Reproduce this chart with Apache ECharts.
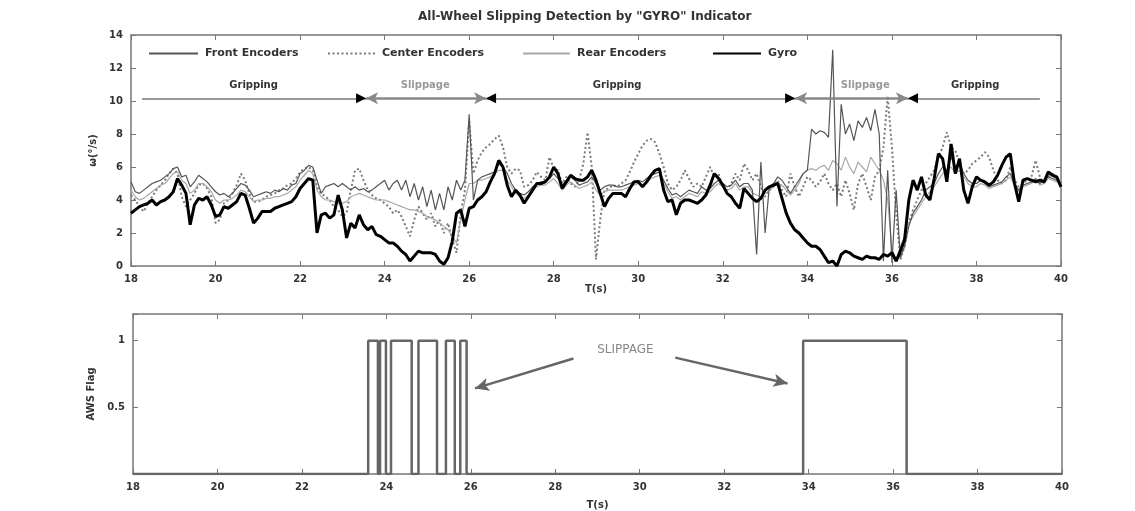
<!DOCTYPE html>
<html>
<head>
<meta charset="utf-8">
<script src="https://cdn.jsdelivr.net/npm/echarts@6/dist/echarts.min.js"></script>
<style>
  html, body { margin: 0; padding: 0; background: #fff; }
  #chart { width: 1135px; height: 511px; }
</style>
</head>
<body>
<div id="chart"></div>
<script>
// traces are sampled every 0.1 s from 18 s to 40 s
var tStart = 18, tStep = 0.1

var gyro = [
  3.2, 3.4, 3.6, 3.7, 3.8, 4.0, 3.7, 3.9, 4.0, 4.2,
  4.5, 5.3, 4.9, 4.4, 2.5, 3.7, 4.1, 4.0, 4.2, 3.7,
  3.0, 3.1, 3.6, 3.5, 3.7, 3.9, 4.4, 4.3, 3.5, 2.6,
  2.9, 3.3, 3.3, 3.3, 3.5, 3.6, 3.7, 3.8, 3.9, 4.2,
  4.7, 5.0, 5.3, 5.2, 2.0, 3.1, 3.2, 2.9, 3.1, 4.3,
  3.4, 1.7, 2.6, 2.3, 3.1, 2.5, 2.2, 2.4, 1.9, 1.8,
  1.6, 1.4, 1.4, 1.2, 0.9, 0.7, 0.3, 0.6, 0.9, 0.8,
  0.8, 0.8, 0.7, 0.3, 0.1, 0.5, 1.5, 3.2, 3.4, 2.4,
  3.5, 3.6, 4.0, 4.2, 4.5, 5.1, 5.6, 6.4, 6.0, 4.9,
  4.2, 4.6, 4.3, 3.8, 4.2, 4.6, 5.0, 5.0, 5.1, 5.4,
  6.0, 5.6, 4.7, 5.1, 5.5, 5.3, 5.2, 5.2, 5.4, 5.8,
  5.2, 4.4, 3.6, 4.1, 4.4, 4.4, 4.4, 4.2, 4.7, 5.1,
  5.1, 4.8, 5.1, 5.5, 5.8, 5.9, 4.6, 3.9, 4.0, 3.1,
  3.8, 4.0, 4.0, 3.9, 3.8, 4.0, 4.3, 4.9, 5.6, 5.3,
  4.9, 4.4, 4.2, 3.8, 3.5, 4.7, 4.4, 4.1, 3.9, 4.1,
  4.6, 4.8, 4.9, 5.0, 4.1, 3.2, 2.6, 2.2, 2.0, 1.7,
  1.4, 1.2, 1.2, 1.0, 0.6, 0.2, 0.3, 0.0, 0.7, 0.9,
  0.8, 0.6, 0.5, 0.4, 0.6, 0.5, 0.5, 0.4, 0.7, 0.6,
  0.8, 0.3, 0.9, 1.6, 4.0, 5.2, 4.6, 5.4, 4.3, 4.0,
  5.3, 6.8, 6.5, 5.1, 7.4, 5.6, 6.5, 4.6, 3.8, 4.8,
  5.4, 5.2, 5.1, 4.9, 5.1, 5.5, 6.1, 6.6, 6.8, 5.0,
  3.9, 5.2, 5.3, 5.2, 5.1, 5.2, 5.1, 5.7, 5.5, 5.4,
  4.8
]

var frontEnc = [
  5.1, 4.5, 4.4, 4.6, 4.8, 5.0, 5.1, 5.2, 5.4, 5.6,
  5.9, 6.0, 5.4, 5.5, 4.8, 5.1, 5.5, 5.3, 5.1, 4.8,
  4.5, 4.3, 4.4, 4.2, 4.4, 4.7, 5.0, 4.9, 4.6, 4.2,
  4.3, 4.4, 4.5, 4.4, 4.6, 4.5, 4.7, 4.6, 4.9, 5.0,
  5.6, 5.8, 6.1, 6.0, 5.2, 4.4, 4.8, 4.9, 5.0, 4.8,
  5.0, 4.8, 4.6, 4.8, 4.6, 4.7, 4.5, 4.6, 4.8, 5.0,
  5.2, 4.6, 5.0, 5.2, 4.6, 5.2, 4.2, 5.0, 4.0, 4.8,
  3.6, 4.6, 3.4, 4.4, 3.4, 4.8, 4.0, 5.2, 4.6, 5.2,
  9.2, 4.0, 5.2, 5.4, 5.5, 5.6, 5.7, 6.2, 6.0, 5.6,
  5.0, 4.6, 4.4, 4.3, 4.5, 4.8, 5.0, 5.1, 5.1, 5.3,
  5.6, 5.3, 4.9, 5.2, 5.4, 5.2, 4.9, 5.0, 5.1, 5.4,
  5.0, 4.6, 4.8, 4.9, 4.9, 4.8, 4.8, 4.9, 5.0, 5.1,
  5.2, 5.1, 5.3, 5.5, 5.6, 5.7, 5.2, 4.7, 4.3, 4.4,
  4.2, 4.4, 4.6, 4.5, 4.4, 4.8, 4.6, 4.7, 5.0, 5.2,
  5.0, 4.8, 4.9, 5.2, 4.8, 5.0, 5.0, 4.6, 0.7, 6.3,
  2.0, 4.8, 5.0, 5.4, 5.2, 4.8, 4.4, 4.8, 5.2, 5.6,
  5.8, 8.3, 8.0, 8.2, 8.1, 7.8, 13.1, 3.6, 9.8, 8.0,
  8.6, 7.6, 8.8, 8.4, 9.0, 8.2, 9.5, 8.0, 0.3, 5.8,
  0.2, 4.6, 0.5, 1.2, 2.4, 3.2, 3.6, 4.0, 4.6, 4.8,
  5.0, 5.6, 6.0, 5.8, 6.6, 6.0, 6.2, 5.6, 5.2, 5.0,
  5.0, 5.2, 5.0, 4.8, 4.9, 5.0, 5.1, 5.4, 5.6, 5.0,
  4.6, 4.9, 5.0, 5.1, 5.3, 5.0, 5.2, 5.4, 5.3, 5.2,
  5.0
]

var centerEnc = [
  4.3, 4.0, 3.6, 3.3, 3.8, 4.2, 4.6, 4.9, 5.2, 5.6,
  5.9, 5.6, 4.2, 3.6, 4.0, 4.4, 4.9, 5.0, 4.7, 4.2,
  2.6, 2.8, 3.8, 4.0, 4.4, 4.9, 5.6, 5.2, 4.4, 3.9,
  3.9, 4.0, 4.2, 4.3, 4.4, 4.6, 4.7, 4.9, 5.0, 5.3,
  5.7, 5.9, 6.0, 5.8, 4.8, 4.4, 4.2, 4.0, 3.6, 3.4,
  3.0, 3.2, 4.6, 5.8, 5.9, 5.2, 4.6, 4.3, 4.1, 4.0,
  3.8, 3.6, 3.2, 3.4, 3.0, 2.4, 1.8, 2.8, 3.6, 3.2,
  2.8, 3.2, 2.4, 2.8, 2.0, 2.6, 1.6, 0.8, 3.2, 4.6,
  8.8, 5.6, 6.4, 6.9, 7.2, 7.4, 7.7, 7.9, 7.2, 6.0,
  5.6, 5.9, 5.8, 4.8, 4.9, 5.2, 5.7, 5.4, 5.2, 6.6,
  5.9, 5.8, 5.0, 5.4, 5.0, 4.8, 5.2, 6.2, 8.1, 6.0,
  0.4, 2.8, 4.6, 4.7, 4.9, 4.8, 5.0, 5.2, 5.7, 6.3,
  6.8, 7.3, 7.6, 7.7, 7.5, 6.8, 6.0, 5.0, 4.6, 4.8,
  5.2, 5.8, 5.3, 4.8, 5.0, 4.8, 5.4, 6.0, 5.4, 5.6,
  4.8, 4.6, 5.0, 5.6, 5.2, 6.2, 5.8, 5.2, 5.6, 4.8,
  4.2, 4.6, 4.8, 5.2, 4.6, 4.2, 5.6, 4.8, 4.2, 4.8,
  5.4, 5.2, 4.8, 5.1, 5.6, 5.0, 4.6, 5.0, 4.2, 5.2,
  4.4, 3.4, 5.0, 5.6, 4.8, 4.0, 5.4, 5.8, 7.2, 10.3,
  7.2, 3.2, 0.4, 1.2, 2.6, 3.4, 4.0, 4.6, 5.0, 5.4,
  5.8, 6.6, 7.2, 8.1, 7.2, 7.0, 6.2, 5.6, 5.8, 6.2,
  6.4, 6.6, 6.9, 6.6, 5.8, 5.2, 5.0, 5.2, 6.0, 5.2,
  4.8, 5.0, 5.2, 5.4, 6.4, 5.4, 5.0, 5.4, 5.6, 5.2,
  5.0
]

var rearEnc = [
  4.6, 4.2, 4.0, 4.1, 4.3, 4.5, 4.7, 4.9, 5.0, 5.3,
  5.6, 5.7, 5.2, 5.0, 4.4, 4.6, 5.0, 5.0, 4.8, 4.5,
  4.0, 3.8, 4.0, 4.0, 4.1, 4.3, 4.6, 4.5, 4.2, 3.9,
  4.0, 4.0, 4.1, 4.1, 4.2, 4.2, 4.3, 4.4, 4.6, 4.8,
  5.2, 5.5, 5.8, 5.6, 4.6, 4.2, 4.0, 4.0, 3.9, 3.8,
  3.8, 3.9, 4.2, 4.3, 4.4, 4.3, 4.2, 4.1, 4.0, 4.0,
  4.0, 3.9, 3.8, 3.7, 3.6, 3.5, 3.4, 3.4, 3.3, 3.2,
  3.0, 2.9, 2.8, 2.6, 2.4, 2.2, 1.8, 1.4, 2.8, 4.0,
  5.0, 5.0, 5.2, 5.2, 5.3, 5.4, 5.6, 5.8, 5.8, 5.2,
  4.8, 4.4, 4.2, 4.1, 4.3, 4.6, 4.8, 4.9, 4.9, 5.1,
  5.3, 5.0, 4.6, 4.9, 5.1, 4.9, 4.7, 4.8, 4.9, 5.1,
  4.6, 4.3, 4.5, 4.6, 4.6, 4.6, 4.6, 4.7, 4.8, 4.9,
  5.0, 4.9, 5.1, 5.3, 5.4, 5.5, 5.0, 4.5, 4.1, 4.2,
  4.0, 4.2, 4.4, 4.3, 4.2, 4.5, 4.4, 4.5, 4.8, 5.0,
  4.8, 4.6, 4.7, 5.0, 4.6, 4.8, 4.8, 4.4, 4.3, 4.2,
  4.4, 4.6, 4.8, 5.0, 4.9, 4.6, 4.3, 4.6, 5.0, 5.6,
  5.8, 5.9, 5.8, 6.0, 6.1, 5.8, 6.4, 6.2, 5.8, 6.6,
  6.0, 5.6, 6.3, 6.0, 5.7, 6.6, 6.2, 5.8, 5.2, 4.0,
  1.0, 0.4, 1.2, 1.8, 2.6, 3.0, 3.4, 3.8, 4.2, 4.5,
  4.8, 5.2, 5.6, 5.8, 6.0, 5.6, 5.8, 5.4, 5.0, 4.8,
  4.8, 5.0, 4.9, 4.7, 4.8, 4.9, 5.0, 5.2, 5.4, 4.9,
  4.5, 4.8, 4.9, 5.0, 5.2, 4.9, 5.0, 5.3, 5.2, 5.1,
  4.9
]

// AWS flag: time where the flag switches, and the value it takes there
var flagTimes = [18, 23.57, 23.80, 23.85, 23.99, 24.11, 24.60, 24.76, 25.20, 25.41, 25.62, 25.75, 25.90, 33.87, 36.32, 40]
var flagValues = [0, 1, 0, 1, 0, 1, 0, 1, 0, 1, 0, 1, 0, 1, 0, 0]

// phase annotations on the upper plot
var phaseNames = ['Gripping', 'Slippage', 'Gripping', 'Slippage', 'Gripping']
var phaseFrom = [18.26, 23.56, 26.40, 33.71, 36.38]
var phaseTo = [23.56, 26.40, 33.71, 36.38, 39.50]
var phaseTextAt = [20.9, 24.96, 29.5, 35.37, 37.97]
var phaseArrowY = 10.16
var phaseTextY = 10.95

// "SLIPPAGE" callout on the lower plot
var calloutText = 'SLIPPAGE'
var calloutAt = [29.66, 0.93]
var calloutArrows = [
  [[28.43, 0.866], [26.10, 0.642]],
  [[30.84, 0.873], [33.50, 0.679]]
]

var xTicks = { min: 18, max: 40, interval: 2 }

function toPairs(values) {
  return values.map(function (v, i) {
    return [Math.round((tStart + i * tStep) * 10) / 10, v]
  })
}

var font = 'DejaVu Sans'
var axisColor = '#777'
var labelStyle = { color: '#333', fontSize: 10, fontWeight: 'bold', fontFamily: font }

function xAxisOf(grid, pos, withName, gap) {
  return {
    type: 'value', gridIndex: grid, position: pos,
    min: xTicks.min, max: xTicks.max, interval: xTicks.interval,
    name: withName ? 'T(s)' : '', nameLocation: 'middle', nameGap: gap,
    nameTextStyle: labelStyle,
    axisLine: { show: true, onZero: false, lineStyle: { color: axisColor, width: 1.5 } },
    axisTick: { show: true, inside: true, length: 5, lineStyle: { color: axisColor } },
    axisLabel: Object.assign({ show: pos === 'bottom', margin: 8 }, labelStyle),
    splitLine: { show: false }
  }
}

function yAxisOf(grid, pos, range, name) {
  return {
    type: 'value', gridIndex: grid, position: pos,
    min: range[0], max: range[1], interval: range[2],
    name: name || '', nameLocation: 'middle', nameGap: 28,
    nameTextStyle: labelStyle,
    axisLine: { show: true, onZero: false, lineStyle: { color: axisColor, width: 1.5 } },
    axisTick: { show: true, inside: true, length: 5, lineStyle: { color: axisColor } },
    axisLabel: Object.assign({
      show: pos === 'left', margin: 8,
      formatter: function (v) { return (range[3] && range[3].indexOf(v) < 0) ? '' : String(v) }
    }, labelStyle),
    splitLine: { show: false }
  }
}

var phaseLines = [], phaseHeads = [], phaseTexts = []
phaseNames.forEach(function (name, i) {
  var slip = name === 'Slippage'
  phaseLines.push([
    { coord: [phaseFrom[i], phaseArrowY], symbol: slip ? 'arrow' : 'none', symbolSize: [9, 12],
      lineStyle: slip ? { color: '#888', width: 2.5, type: 'solid' } : { color: '#777', width: 1.5, type: 'solid' } },
    { coord: [phaseTo[i], phaseArrowY], symbol: slip ? 'arrow' : 'none', symbolSize: [9, 12] }
  ])
  phaseTexts.push({
    name: name, coord: [phaseTextAt[i], phaseTextY],
    label: { color: slip ? '#999' : '#333' }
  })
})
// black stops at each phase boundary
;[1, 3].forEach(function (i) {
  phaseHeads.push({ coord: [phaseFrom[i], phaseArrowY], symbolRotate: -90, symbolOffset: [-5, 0] })
  phaseHeads.push({ coord: [phaseTo[i], phaseArrowY], symbolRotate: 90, symbolOffset: [5, 0] })
})

var chart = echarts.init(document.getElementById('chart'))

function legendOf(name, left, width) {
  return {
    data: [name], left: left, top: 48, padding: 0,
    itemWidth: width, itemHeight: 14, itemGap: 0, selectedMode: false,
    itemStyle: { opacity: 0 },
    textStyle: { color: '#333', fontSize: 11, fontWeight: 'bold', fontFamily: font, padding: [0, 0, 0, 2] }
  }
}

chart.setOption({
  animation: false,
  backgroundColor: '#fff',
  title: {
    text: 'All-Wheel Slipping Detection by "GYRO" Indicator',
    left: 418, top: 11, padding: 0,
    textStyle: { color: '#333', fontSize: 12, fontWeight: 'bold', fontFamily: font }
  },
  legend: [
    legendOf('Front Encoders', 148, 49),
    legendOf('Center Encoders', 327, 47),
    legendOf('Rear Encoders', 522, 47),
    legendOf('Gyro', 712, 48)
  ],
  grid: [
    { left: 131, right: 74, top: 35, height: 231 },
    { left: 133, right: 73, top: 314, height: 160 }
  ],
  xAxis: [
    xAxisOf(0, 'bottom', true, 17),
    xAxisOf(0, 'top', false, 0),
    xAxisOf(1, 'bottom', true, 26),
    xAxisOf(1, 'top', false, 0)
  ],
  yAxis: [
    yAxisOf(0, 'left', [0, 14, 2], 'ω(°/s)'),
    yAxisOf(0, 'right', [0, 14, 2]),
    yAxisOf(1, 'left', [0, 1.2, 0.5, [0.5, 1]], 'AWS Flag'),
    yAxisOf(1, 'right', [0, 1.2, 0.5])
  ],
  series: [
    {
      name: 'Front Encoders', type: 'line', xAxisIndex: 0, yAxisIndex: 0,
      data: toPairs(frontEnc), symbol: 'none', z: 3,
      lineStyle: { color: '#555', width: 1.2 }, itemStyle: { color: '#555' }
    },
    {
      name: 'Center Encoders', type: 'line', xAxisIndex: 0, yAxisIndex: 0,
      data: toPairs(centerEnc), symbol: 'none', z: 2,
      lineStyle: { color: '#7a7a7a', width: 2, type: [2, 2.5] }, itemStyle: { color: '#7a7a7a' }
    },
    {
      name: 'Rear Encoders', type: 'line', xAxisIndex: 0, yAxisIndex: 0,
      data: toPairs(rearEnc), symbol: 'none', z: 2,
      lineStyle: { color: '#a8a8a8', width: 1.2 }, itemStyle: { color: '#a8a8a8' }
    },
    {
      name: 'Gyro', type: 'line', xAxisIndex: 0, yAxisIndex: 0,
      data: toPairs(gyro), symbol: 'none', z: 4,
      lineStyle: { color: '#000', width: 3 }, itemStyle: { color: '#000' }
    },
    {
      name: 'phases', type: 'line', xAxisIndex: 0, yAxisIndex: 0, data: [], z: 5,
      markLine: { silent: true, animation: false, label: { show: false }, data: phaseLines },
      markPoint: {
        silent: true, animation: false,
        symbol: 'triangle', symbolSize: [10, 10], itemStyle: { color: '#000' },
        label: { show: false },
        data: phaseHeads
      }
    },
    {
      name: 'phaseText', type: 'scatter', xAxisIndex: 0, yAxisIndex: 0, data: [], z: 5,
      markPoint: {
        silent: true, animation: false,
        symbol: 'rect', symbolSize: 1, itemStyle: { color: 'rgba(0,0,0,0)' },
        label: { show: true, position: 'inside', formatter: '{b}', fontSize: 10, fontWeight: 'bold', fontFamily: font },
        data: phaseTexts
      }
    },
    {
      name: 'AWS Flag', type: 'line', xAxisIndex: 2, yAxisIndex: 2, step: 'end',
      data: flagTimes.map(function (t, i) { return [t, flagValues[i]] }),
      symbol: 'none', lineStyle: { color: '#666', width: 2.5 },
      markLine: {
        silent: true, animation: false, label: { show: false },
        symbol: ['none', 'arrow'], symbolSize: [10, 14],
        lineStyle: { color: '#666', width: 2.5, type: 'solid' },
        data: calloutArrows.map(function (a) { return [{ coord: a[0] }, { coord: a[1] }] })
      },
      markPoint: {
        silent: true, animation: false,
        symbol: 'rect', symbolSize: 1, itemStyle: { color: 'rgba(0,0,0,0)' },
        label: { show: true, position: 'inside', formatter: '{b}', color: '#888', fontSize: 12, fontFamily: font },
        data: [{ name: calloutText, coord: calloutAt }]
      }
    }
  ]
})
</script>
</body>
</html>
